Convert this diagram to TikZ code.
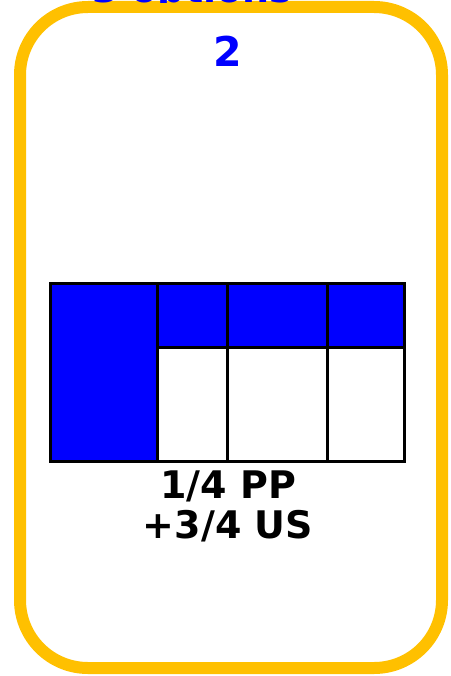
\documentclass[tikz,border=0pt]{standalone}
\usepackage{fontspec}
\setmainfont{DejaVu Sans}
\definecolor{cardorange}{HTML}{FFC000}
\definecolor{fillblue}{HTML}{0000FF}
\tikzset{
  card/.style={draw=cardorange, line width=12pt, rounded corners=68pt},
  cell/.style={draw=black, line width=3pt},
  bluecell/.style={cell, fill=fillblue},
  title/.style={text=fillblue, font=\bfseries\fontsize{38}{40}\selectfont, inner sep=0pt, anchor=base},
  caption/.style={text=black, font=\bfseries\fontsize{38}{40}\selectfont, inner sep=0pt, anchor=base},
}
\begin{document}
\begin{tikzpicture}[x=1pt,y=-1pt]
\useasboundingbox (0,0) rectangle (450,676);
\draw[card] (20,7) rectangle (442,668);
\begin{scope}
\clip (0,-60) rectangle (450,3);
\node[title] (top) at (192,3) {3 options};
\end{scope}
\node[title, font=\bfseries\fontsize{41}{44}\selectfont] (num) at (228,67) {2};
% grid
\draw[bluecell] (50,283) rectangle (157,461);
\draw[bluecell] (157,283) rectangle (227,347);
\draw[bluecell] (227,283) rectangle (327,347);
\draw[bluecell] (327,283) rectangle (404,347);
\draw[cell] (157,347) rectangle (227,461);
\draw[cell] (227,347) rectangle (327,461);
\draw[cell] (327,347) rectangle (404,461);
\node[caption] (l1) at (228,498) {1/4 PP};
\node[caption] (l2) at (228,538) {+3/4 US};
\end{tikzpicture}
\end{document}
